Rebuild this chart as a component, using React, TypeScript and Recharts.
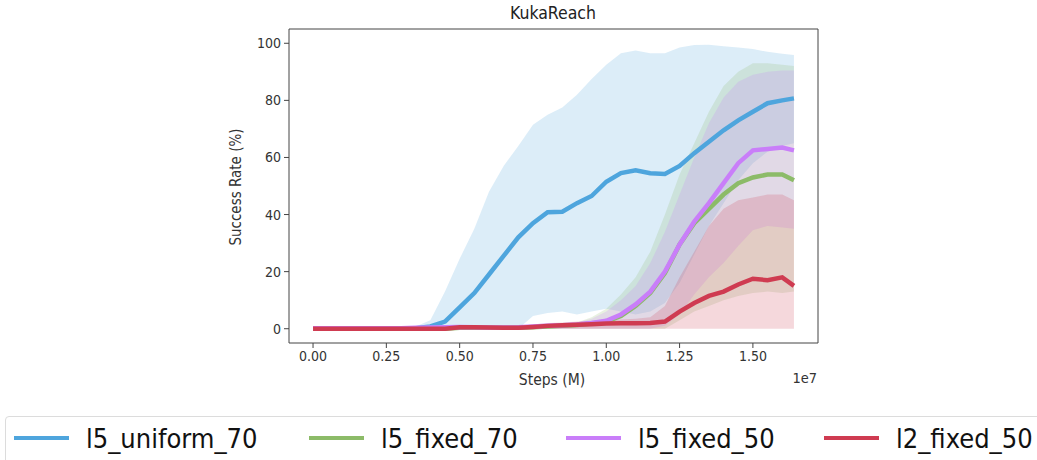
import React from "react";
import {
  ComposedChart,
  Area,
  Line,
  XAxis,
  YAxis,
  Label,
  Legend,
  ReferenceLine,
} from "recharts";

const steps = [0, 0.05, 0.1, 0.15, 0.2, 0.25, 0.3, 0.35, 0.4, 0.45, 0.5, 0.55, 0.6, 0.65, 0.7, 0.75, 0.8, 0.85, 0.9, 0.95, 1.0, 1.05, 1.1, 1.15, 1.2, 1.25, 1.3, 1.35, 1.4, 1.45, 1.5, 1.55, 1.6, 1.64];

const uniform70Mean = [0, 0, 0, 0, 0, 0, 0.1, 0.2, 0.8, 2.5, 7.5, 12.5, 19, 25.5, 32, 37, 40.8, 41, 44, 46.5, 51.5, 54.5, 55.5, 54.5, 54.2, 57, 61.5, 65.5, 69.5, 73, 76, 79, 80, 80.7];
const uniform70Low = [0, 0, 0, 0, 0, 0, 0, 0, 0, 0, 0, 0, 0, 0, 0, 4.5, 5.5, 6, 5, 6, 7, 6, 5, 6, 9, 16, 26, 36, 44, 52, 58, 62, 64, 65];
const uniform70High = [0, 0, 0, 0, 0, 0, 0.2, 0.8, 3, 13, 24.5, 35, 48, 57, 64, 71.5, 75, 77.5, 82, 87.5, 92.5, 96.5, 97.5, 96.5, 96.5, 98.5, 99.4, 99.5, 99, 98.5, 98, 97, 96.3, 95.9];

const fixed70Mean = [0, 0, 0, 0, 0, 0, 0, 0, 0, 0, 0.3, 0.3, 0.3, 0.3, 0.3, 0.5, 0.8, 1, 1.3, 1.8, 2.5, 4.5, 8, 12.5, 19.5, 29.5, 37, 42, 47, 51, 53, 54, 54, 52];
const fixed70Low = [0, 0, 0, 0, 0, 0, 0, 0, 0, 0, 0, 0, 0, 0, 0, 0, 0, 0, 0, 0, 0, 0, 0, 0, 0, 3, 6, 8, 10, 11.5, 12.5, 13, 12.5, 13];
const fixed70High = [0, 0, 0, 0, 0, 0, 0, 0, 0, 0, 1, 1, 1, 1, 1, 1.2, 1.5, 1.8, 2.2, 4, 7, 12, 18, 27, 40, 54, 65, 76, 85, 90, 93, 93, 92.5, 92];

const fixed50Mean = [0.2, 0.2, 0.2, 0.2, 0.2, 0.2, 0.2, 0.3, 0.4, 0.5, 0.6, 0.5, 0.4, 0.4, 0.5, 0.8, 1, 1.2, 1.5, 2, 2.8, 5, 8.5, 13, 20, 29.5, 37.5, 44, 51, 58, 62.5, 63, 63.5, 62.5];
const fixed50Low = [0, 0, 0, 0, 0, 0, 0, 0, 0, 0, 0, 0, 0, 0, 0, 0, 0, 0, 0, 0, 0, 0, 0, 0, 1, 5, 12, 18, 23, 29, 34.5, 36, 35.5, 35];
const fixed50High = [0, 0, 0, 0, 0, 0, 0, 0, 0, 0, 1, 1, 1, 1, 1, 1.2, 1.5, 1.8, 2.2, 3.5, 6, 10, 15, 23, 34, 47, 60, 72, 81, 86.5, 89, 90, 90.5, 90.5];

const l2fixed50Mean = [0, 0, 0, 0, 0, 0, 0, 0, 0, 0, 0.5, 0.5, 0.4, 0.3, 0.3, 0.6, 1, 1.2, 1.4, 1.6, 1.8, 1.9, 1.9, 2, 2.5, 6, 9, 11.5, 13, 15.5, 17.5, 17, 18, 15];
const l2fixed50Low = [0, 0, 0, 0, 0, 0, 0, 0, 0, 0, 0, 0, 0, 0, 0, 0, 0, 0, 0, 0, 0, 0, 0, 0, 0, 0, 0, 0, 0, 0, 0, 0, 0, 0];
const l2fixed50High = [0, 0, 0, 0, 0, 0, 0, 0, 0, 0, 1, 1, 1, 1, 1, 1.5, 2, 2.2, 2.5, 2.8, 3, 3.2, 3.5, 4, 8, 18, 27, 36, 42, 45, 46, 47, 47, 45];

const xTicks = [0, 0.25, 0.5, 0.75, 1.0, 1.25, 1.5];
const yTicks = [0, 20, 40, 60, 80, 100];
const xDomain = [-0.082, 1.722];
const yDomain = [-5, 105];

const seriesNames = ["l5_uniform_70", "l5_fixed_70", "l5_fixed_50", "l2_fixed_50"];
const seriesColors = ["#4ea5dd", "#8cbb68", "#c97ef9", "#cf3b51"];

const data = steps.map((s, i) => ({
  step: s,
  m0: uniform70Mean[i],
  b0: [uniform70Low[i], uniform70High[i]],
  m1: fixed70Mean[i],
  b1: [fixed70Low[i], fixed70High[i]],
  m2: fixed50Mean[i],
  b2: [fixed50Low[i], fixed50High[i]],
  m3: l2fixed50Mean[i],
  b3: [l2fixed50Low[i], l2fixed50High[i]],
}));

const FONT = "'DejaVu Sans Condensed', 'DejaVu Sans', sans-serif";
const AX = "#444";

const LegendBox = () => (
  <div
    style={{
      position: "absolute",
      left: 0,
      top: 0,
      width: 1040,
      height: 60,
      border: "1px solid #dcdcdc",
      borderRadius: 4,
      boxSizing: "border-box",
      background: "#fff",
      fontFamily: FONT,
      fontStretch: "condensed",
      fontSize: 27,
      color: "#111",
    }}
  >
    {seriesNames.map((n, i) => (
      <div
        key={n}
        style={{
          position: "absolute",
          left: [8, 303, 560, 818][i],
          top: 4,
          display: "flex",
          alignItems: "center",
          height: 34,
          whiteSpace: "nowrap",
        }}
      >
        <span
          style={{
            display: "inline-block",
            width: 55,
            height: 4,
            background: seriesColors[i],
            marginRight: 17,
          }}
        />
        <span>{n}</span>
      </div>
    ))}
  </div>
);

export default function App() {
  return (
    <div style={{ position: "absolute", left: 0, top: 0, width: 1037, height: 460, overflow: "hidden", background: "#fff" }}>
      <ComposedChart
        width={1037}
        height={460}
        data={data}
        margin={{ top: 29, right: 219, left: 229, bottom: 87 }}
        style={{ fontFamily: FONT }}
      >
        <XAxis
          dataKey="step"
          type="number"
          domain={xDomain}
          ticks={xTicks}
          tickFormatter={(v: number) => v.toFixed(2)}
          allowDataOverflow
          height={30}
          tickSize={5}
          tickMargin={3}
          stroke={AX}
          tick={{ fill: "#333", fontSize: 14, fontFamily: FONT }}
        >
          <Label
            content={() => (
              <text x={552} y={385} textAnchor="middle" fill="#333" fontSize={15.5} fontFamily={FONT}>
                Steps (M)
              </text>
            )}
          />
          <Label
            content={() => (
              <text x={817} y={383} textAnchor="end" fill="#333" fontSize={14.5} fontFamily={FONT}>
                1e7
              </text>
            )}
          />
          <Label
            content={() => (
              <text x={553} y={19} textAnchor="middle" fill="#222" fontSize={17.5} fontFamily={FONT}>
                KukaReach
              </text>
            )}
          />
        </XAxis>
        <YAxis
          type="number"
          domain={yDomain}
          ticks={yTicks}
          allowDataOverflow
          width={60}
          tickSize={5}
          tickMargin={3}
          stroke={AX}
          tick={{ fill: "#333", fontSize: 14, fontFamily: FONT }}
        >
          <Label
            content={() => (
              <text
                x={241}
                y={187}
                transform="rotate(-90 241 187)"
                textAnchor="middle"
                fill="#333"
                fontSize={15}
                fontFamily={FONT}
              >
                Success Rate (%)
              </text>
            )}
          />
        </YAxis>

        <Area dataKey="b0" type="linear" stroke="none" fill={seriesColors[0]} fillOpacity={0.2} isAnimationActive={false} legendType="none" />
        <Line dataKey="m0" type="linear" stroke={seriesColors[0]} strokeWidth={4.5} dot={false} isAnimationActive={false} />
        <Area dataKey="b1" type="linear" stroke="none" fill={seriesColors[1]} fillOpacity={0.2} isAnimationActive={false} legendType="none" />
        <Line dataKey="m1" type="linear" stroke={seriesColors[1]} strokeWidth={4.5} dot={false} isAnimationActive={false} />
        <Area dataKey="b2" type="linear" stroke="none" fill={seriesColors[2]} fillOpacity={0.2} isAnimationActive={false} legendType="none" />
        <Line dataKey="m2" type="linear" stroke={seriesColors[2]} strokeWidth={4.5} dot={false} isAnimationActive={false} />
        <Area dataKey="b3" type="linear" stroke="none" fill={seriesColors[3]} fillOpacity={0.2} isAnimationActive={false} legendType="none" />
        <Line dataKey="m3" type="linear" stroke={seriesColors[3]} strokeWidth={4.5} dot={false} isAnimationActive={false} />

        <ReferenceLine y={yDomain[1]} stroke={AX} strokeWidth={1} />
        <ReferenceLine x={xDomain[1]} stroke={AX} strokeWidth={1} />

        <Legend
          layout="horizontal"
          verticalAlign="middle"
          align="center"
          wrapperStyle={{ left: 5, top: 416, width: 1040, height: 60 }}
          content={() => <LegendBox />}
        />
      </ComposedChart>
    </div>
  );
}
